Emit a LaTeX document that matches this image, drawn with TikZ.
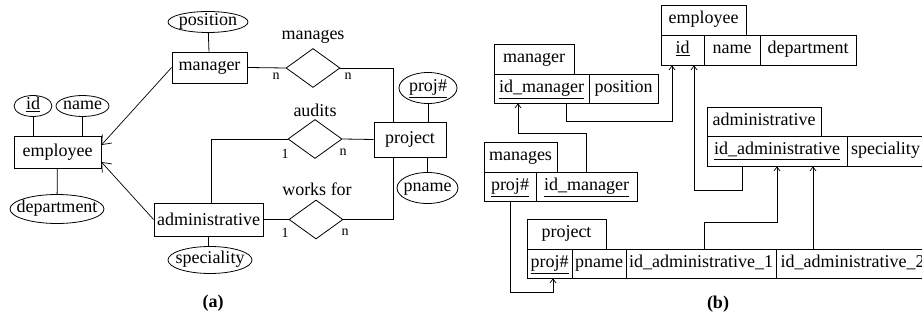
\documentclass[tikz,border=0pt]{standalone}
\usepackage{fontspec}
\setmainfont{Liberation Serif}
\newfontfamily\tms{Liberation Serif}
\usetikzlibrary{shapes.geometric,arrows.meta}
\tikzset{
  every node/.style={font=\tms\fontsize{18}{20}\selectfont},
  ent/.style={draw, rectangle, inner sep=0pt},
  attr/.style={draw, ellipse, inner xsep=-10pt, inner ysep=0pt, text height=11pt, text depth=3pt},
  rel/.style={draw, diamond, inner sep=0pt, minimum width=54pt, minimum height=39pt},
  card/.style={font=\tms\fontsize{14}{16}\selectfont, inner sep=0pt},
  ln/.style={line width=0.8pt},
  isa/.style={line width=0.7pt, -{Straight Barb[length=8pt,width=13pt,line width=0.7pt]}},
  cell/.style={draw, rectangle, inner sep=0pt, line width=0.8pt, text height=12pt, text depth=4pt},
  fk/.style={line width=0.8pt, -{Straight Barb[length=4pt,width=6pt,line width=0.7pt]}},
  captext/.style={font=\tms\fontsize{18}{20}\selectfont\bfseries}
}
\begin{document}
\begin{tikzpicture}[x=1pt,y=-1pt,line width=0.8pt]
\useasboundingbox (0,0) rectangle (922,320);
% ---------- (a) ER diagram ----------
\node[ent, minimum width=75pt, minimum height=31pt] (manager) at (209.5,67.5) {manager};
\node[ent, minimum width=87pt, minimum height=32pt] (employee) at (57.5,152) {employee};
\node[ent, minimum width=109pt, minimum height=33pt] (admin) at (208.5,219.5) {administrative};
\node[ent, minimum width=72pt, minimum height=35pt] (project) at (410,139.5) {project};

\node[attr, minimum width=80pt, minimum height=21pt] (position) at (208,22) {position};
\node[attr, minimum width=38pt, minimum height=21pt] (id) at (33,106) {\underline{id}};
\node[attr, minimum width=53pt, minimum height=21pt] (name) at (82.5,106) {name};
\node[attr, minimum width=94pt, minimum height=29pt] (department) at (57,209) {department};
\node[attr, minimum width=84pt, minimum height=27pt] (speciality) at (210,260) {speciality};
\node[attr, minimum width=58pt, minimum height=31pt] (projnum) at (428,88) {\underline{proj\#}};
\node[attr, minimum width=61pt, minimum height=31pt] (pname) at (427.5,188) {pname};

\node[rel] (manages) at (313,68) {};
\node[rel] (audits) at (315,139) {};
\node[rel] (worksfor) at (316,219.5) {};
\node (lmanages) at (313,37) {manages};
\node (laudits) at (315,110) {audits};
\node (lworksfor) at (317,189) {works for};

\draw[ln] (position) -- (manager);
\draw[ln] (id.south) -- (id.south |- employee.north);
\draw[ln] (name.south) -- (name.south |- employee.north);
\draw[ln] (employee) -- (department);
\draw[ln] (admin) -- (speciality.north -| admin.south);
\draw[ln] (projnum.south) -- (projnum.south |- project.north);
\draw[ln] (pname.north) -- (pname.north |- project.south);

\draw[isa] (manager.west) -- ([yshift=7pt]employee.east);
\draw[isa] (admin.west) -- ([yshift=-10pt]employee.east);

\draw[ln] (manager.east) -- (manages.west);
\draw[ln] (manages.east) -| ([xshift=-17pt]project.north);
\draw[ln] ([xshift=2.5pt]admin.north) |- (audits.west);
\draw[ln] (audits.east) -- (project.west);
\draw[ln] (admin.east) -- (worksfor.west);
\draw[ln] (worksfor.east) -| ([xshift=-17pt]project.south);

\node[card] (c1) at (276,76) {n};
\node[card] (c2) at (348,76) {n};
\node[card] (c3) at (285,154) {1};
\node[card] (c4) at (343,152) {n};
\node[card] (c5) at (285,233) {1};
\node[card] (c6) at (345,232) {n};

\node[captext] (capa) at (213,303) {(a)};

% ---------- (b) relational schema ----------
% manager
\node[cell, minimum width=80pt, minimum height=30pt] (mt) at (534,59) {manager};
\node[cell, minimum width=95pt, minimum height=29pt] (m1) at (541.5,88.5) {\underline{id\_manager}};
\node[cell, minimum width=69pt, minimum height=29pt] (m2) at (623.5,88.5) {position};
% employee
\node[cell, minimum width=85pt, minimum height=30pt] (et) at (703.5,20) {employee};
\node[cell, minimum width=43pt, minimum height=30pt] (e1) at (682.5,50) {\underline{id}};
\node[cell, minimum width=56pt, minimum height=30pt] (e2) at (732,50) {name};
\node[cell, minimum width=96pt, minimum height=30pt] (e3) at (808,50) {department};
% administrative
\node[cell, minimum width=114pt, minimum height=29pt] (at) at (764,121.5) {administrative};
\node[cell, minimum width=140pt, minimum height=30pt] (a1) at (777,151) {\underline{id\_administrative}};
\node[cell, minimum width=83pt, minimum height=30pt, text width=75pt, align=left] (a2) at (888.5,151) {speciality};
% manages
\node[cell, minimum width=73pt, minimum height=30pt] (mgt) at (520.5,157) {manages};
\node[cell, minimum width=52pt, minimum height=29pt] (mg1) at (510,186.5) {\underline{proj\#}};
\node[cell, minimum width=101pt, minimum height=29pt] (mg2) at (586.5,186.5) {\underline{id\_manager}};
% project
\node[cell, minimum width=79pt, minimum height=30pt] (pt) at (566.5,234) {project};
\node[cell, minimum width=45pt, minimum height=29pt] (p1) at (549.5,263.5) {\underline{proj\#}};
\node[cell, minimum width=54pt, minimum height=29pt] (p2) at (599,263.5) {pname};
\node[cell, minimum width=150pt, minimum height=29pt] (p3) at (701,263.5) {id\_administrative\_1};
\node[cell, minimum width=159pt, minimum height=29pt, text width=150pt, align=left] (p4) at (855.5,263.5) {id\_administrative\_2};

% foreign keys
\draw[fk] ([xshift=24.5pt]m1.south) -- ++(0,18) -| ([xshift=-10.5pt]e1.south);
\draw[fk] ([xshift=-35pt]a1.south) -- ++(0,24) -| ([xshift=11.5pt]e1.south);
\draw[fk] (mg2.north) -- ++(0,-38) -| ([xshift=-23.5pt]m1.south);
\draw[fk] (mg1.south) -- ++(0,91) -| ([xshift=3.5pt]p1.south);
\draw[fk] ([xshift=3pt]p3.north) -- ++(0,-26) -| (a1.south);
\draw[fk] ([xshift=-42.5pt]p4.north) -- ([xshift=-42.5pt]p4.north |- a1.south);

\node[captext] (capb) at (718,304) {(b)};
\end{tikzpicture}
\end{document}
